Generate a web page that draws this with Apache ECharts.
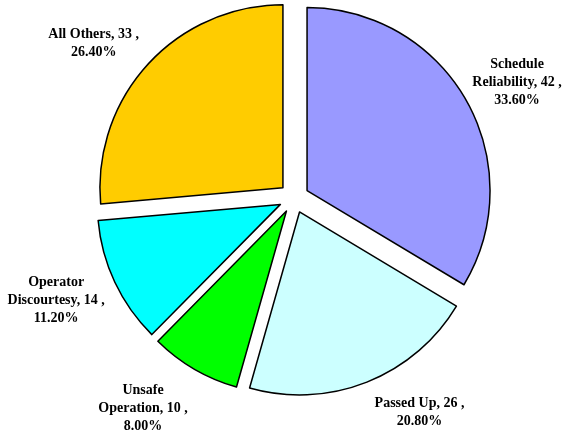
<!DOCTYPE html>
<html>
<head>
<meta charset="utf-8">
<script src="https://cdn.jsdelivr.net/npm/echarts@6/dist/echarts.min.js"></script>
<style>html,body{margin:0;padding:0;background:#fff}#c{width:564px;height:433px}</style>
</head>
<body>
<div id="c"></div>
<script>
const categories = ['Schedule Reliability', 'Passed Up', 'Unsafe Operation', 'Operator Discourtesy', 'All Others'];
const labelNames = ['Schedule\nReliability', 'Passed Up', 'Unsafe\nOperation', 'Operator\nDiscourtesy', 'All Others'];
const values = [42, 26, 10, 14, 33];
const colors = ['#9999FF', '#CCFFFF', '#00FF00', '#00FFFF', '#FFCC00'];

const total = values.reduce((a, b) => a + b, 0);
const CENTER = [294, 198];
const OFFSET = 15;
// small layout nudges for the label boxes (pixels)
const labelNudge = [[2, 10], [32, -22], [-23, -9], [-8, -6], [-13, 17]];

const sliceData = categories.map((c, i) => ({
  name: c,
  value: values[i],
  selected: true,
  itemStyle: { color: colors[i], borderColor: '#000', borderWidth: 1.5 },
  select: { itemStyle: { color: colors[i], borderColor: '#000', borderWidth: 1.5 } }
}));

const labelData = categories.map((c, i) => ({
  name: c,
  value: values[i],
  selected: true,
  itemStyle: { color: 'rgba(0,0,0,0)', borderWidth: 0 },
  select: { itemStyle: { color: 'rgba(0,0,0,0)', borderWidth: 0 } },
  label: {
    formatter: labelNames[i] + ', ' + values[i] + ' ,\n' + (values[i] / total * 100).toFixed(2) + '%'
  }
}));

const chart = echarts.init(document.getElementById('c'), null, { renderer: 'canvas' });
chart.setOption({
  animation: false,
  backgroundColor: '#fff',
  series: [
    {
      type: 'pie',
      center: CENTER,
      radius: 183,
      startAngle: 90,
      clockwise: true,
      selectedMode: 'multiple',
      selectedOffset: OFFSET,
      emphasis: { disabled: true },
      label: { show: false },
      labelLine: { show: false },
      data: sliceData
    },
    {
      type: 'pie',
      center: CENTER,
      radius: [226, 246],
      startAngle: 90,
      clockwise: true,
      selectedMode: 'multiple',
      selectedOffset: OFFSET,
      silent: true,
      emphasis: { disabled: true },
      label: {
        show: true,
        position: 'inside',
        color: '#000',
        fontFamily: 'Liberation Serif',
        fontWeight: 'bold',
        fontSize: 14,
        lineHeight: 18,
        align: 'center'
      },
      labelLayout: function (p) {
        const n = labelNudge[p.dataIndex];
        return { dx: n[0], dy: n[1] };
      },
      labelLine: { show: false },
      data: labelData
    }
  ]
});
</script>
</body>
</html>
